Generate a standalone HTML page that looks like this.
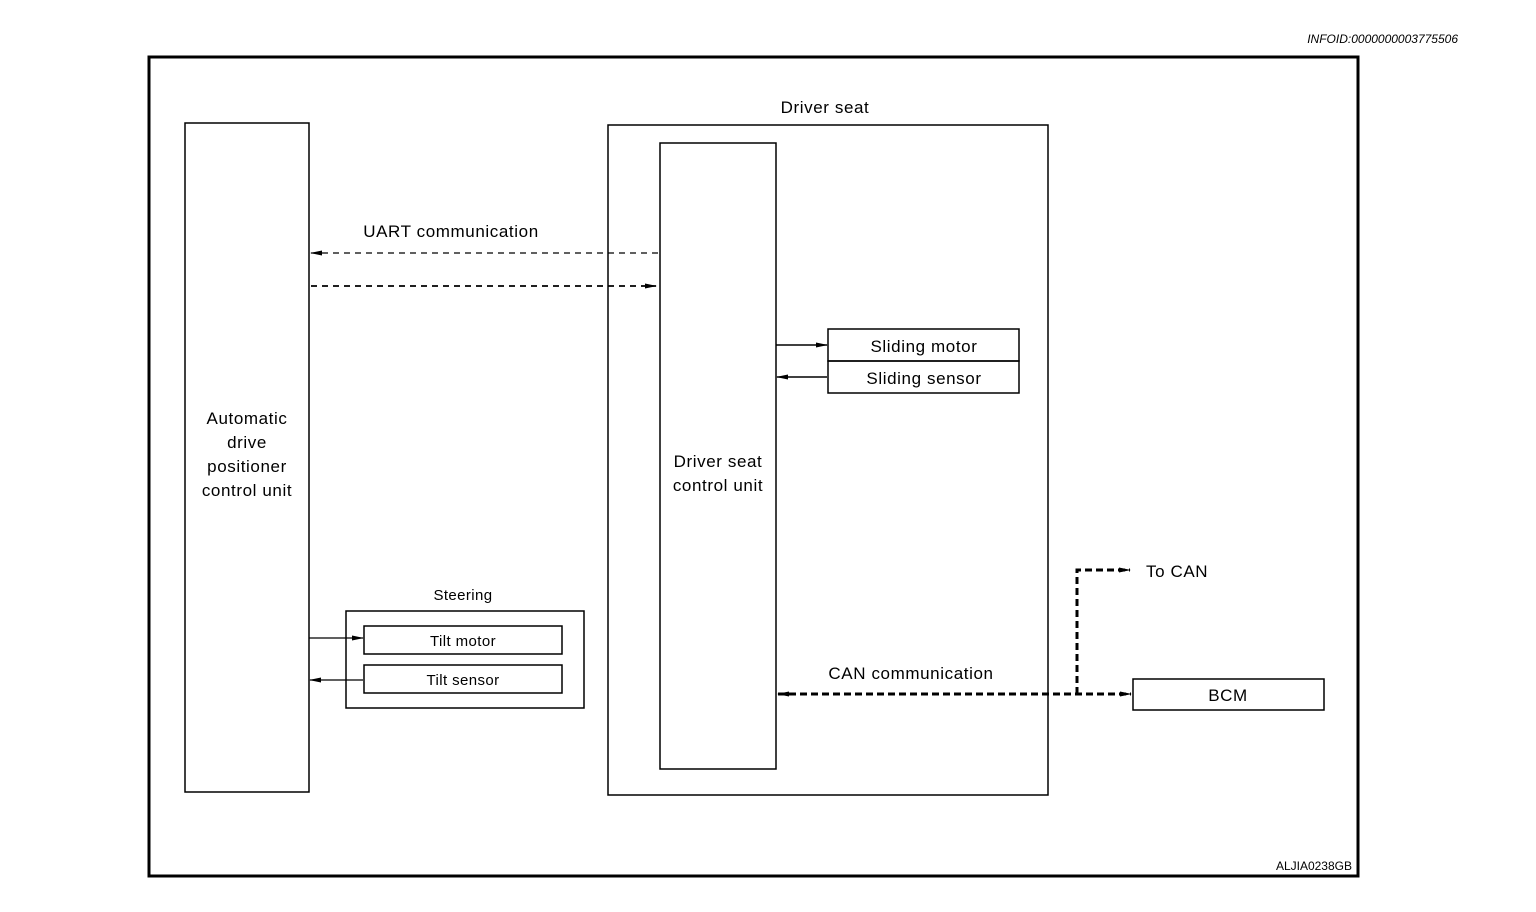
<!DOCTYPE html>
<html><head><style>body{margin:0;background:#fff}svg{display:block}text{font-family:"Liberation Sans",sans-serif;fill:#000}</style></head>
<body>
<svg width="1536" height="912" viewBox="0 0 1536 912" xmlns="http://www.w3.org/2000/svg">
<defs>
<marker id="a" markerWidth="12" markerHeight="8" refX="11" refY="4" orient="auto" markerUnits="userSpaceOnUse"><path d="M0,1.5 L12,4 L0,6.5 Z" fill="#000"/></marker>
<marker id="b" markerWidth="12" markerHeight="8" refX="1" refY="4" orient="auto" markerUnits="userSpaceOnUse"><path d="M12,1.5 L0,4 L12,6.5 Z" fill="#000"/></marker>
</defs>
<text x="1458" y="43" font-size="12" font-style="italic" text-anchor="end">INFOID:0000000003775506</text>
<rect x="149" y="57" width="1209" height="819" fill="none" stroke="#000" stroke-width="3"/>
<text x="1352" y="870" font-size="12" text-anchor="end">ALJIA0238GB</text>
<g fill="none" stroke="#000" stroke-width="1.5">
<rect x="185" y="123" width="124" height="669"/>
<rect x="608" y="125" width="440" height="670"/>
<rect x="660" y="143" width="116" height="626"/>
<rect x="828" y="329" width="191" height="32"/>
<rect x="828" y="361" width="191" height="32"/>
<rect x="346" y="611" width="238" height="97"/>
<rect x="364" y="626" width="198" height="28"/>
<rect x="364" y="665" width="198" height="28"/>
<rect x="1133" y="679" width="191" height="31"/>
</g>
<g stroke="#000" fill="none">
<line x1="658" y1="253" x2="311" y2="253" stroke-width="1.2" stroke-dasharray="6,5" marker-end="url(#a)"/>
<line x1="311" y1="286" x2="656" y2="286" stroke-width="1.8" stroke-dasharray="6,5" marker-end="url(#a)"/>
<line x1="776" y1="345" x2="827" y2="345" stroke-width="1.5" marker-end="url(#a)"/>
<line x1="827" y1="377" x2="777" y2="377" stroke-width="1.5" marker-end="url(#a)"/>
<line x1="309" y1="638" x2="363" y2="638" stroke-width="1.2" marker-end="url(#a)"/>
<line x1="363" y1="680" x2="310" y2="680" stroke-width="1.2" marker-end="url(#a)"/>
<line x1="778" y1="694" x2="1131" y2="694" stroke-width="3" stroke-dasharray="7,4" marker-start="url(#b)" marker-end="url(#a)"/>
<polyline points="1077,694 1077,570 1130,570" stroke-width="3" stroke-dasharray="7,4" marker-end="url(#a)"/>
</g>
<g font-size="17" letter-spacing="0.6">
<text x="825" y="113" text-anchor="middle">Driver seat</text>
<text x="451" y="237" text-anchor="middle">UART communication</text>
<text x="247" y="424" text-anchor="middle">Automatic</text>
<text x="247" y="448" text-anchor="middle">drive</text>
<text x="247" y="472" text-anchor="middle">positioner</text>
<text x="247" y="496" text-anchor="middle">control unit</text>
<text x="718" y="467" text-anchor="middle">Driver seat</text>
<text x="718" y="491" text-anchor="middle">control unit</text>
<text x="924" y="352" text-anchor="middle">Sliding motor</text>
<text x="924" y="384" text-anchor="middle">Sliding sensor</text>
<text x="911" y="679" text-anchor="middle">CAN communication</text>
<text x="1146" y="577">To CAN</text>
<text x="1228" y="701" text-anchor="middle">BCM</text>
</g>
<g font-size="15" letter-spacing="0.4">
<text x="463" y="600" text-anchor="middle">Steering</text>
<text x="463" y="646" text-anchor="middle">Tilt motor</text>
<text x="463" y="685" text-anchor="middle">Tilt sensor</text>
</g>
</svg>
</body></html>
